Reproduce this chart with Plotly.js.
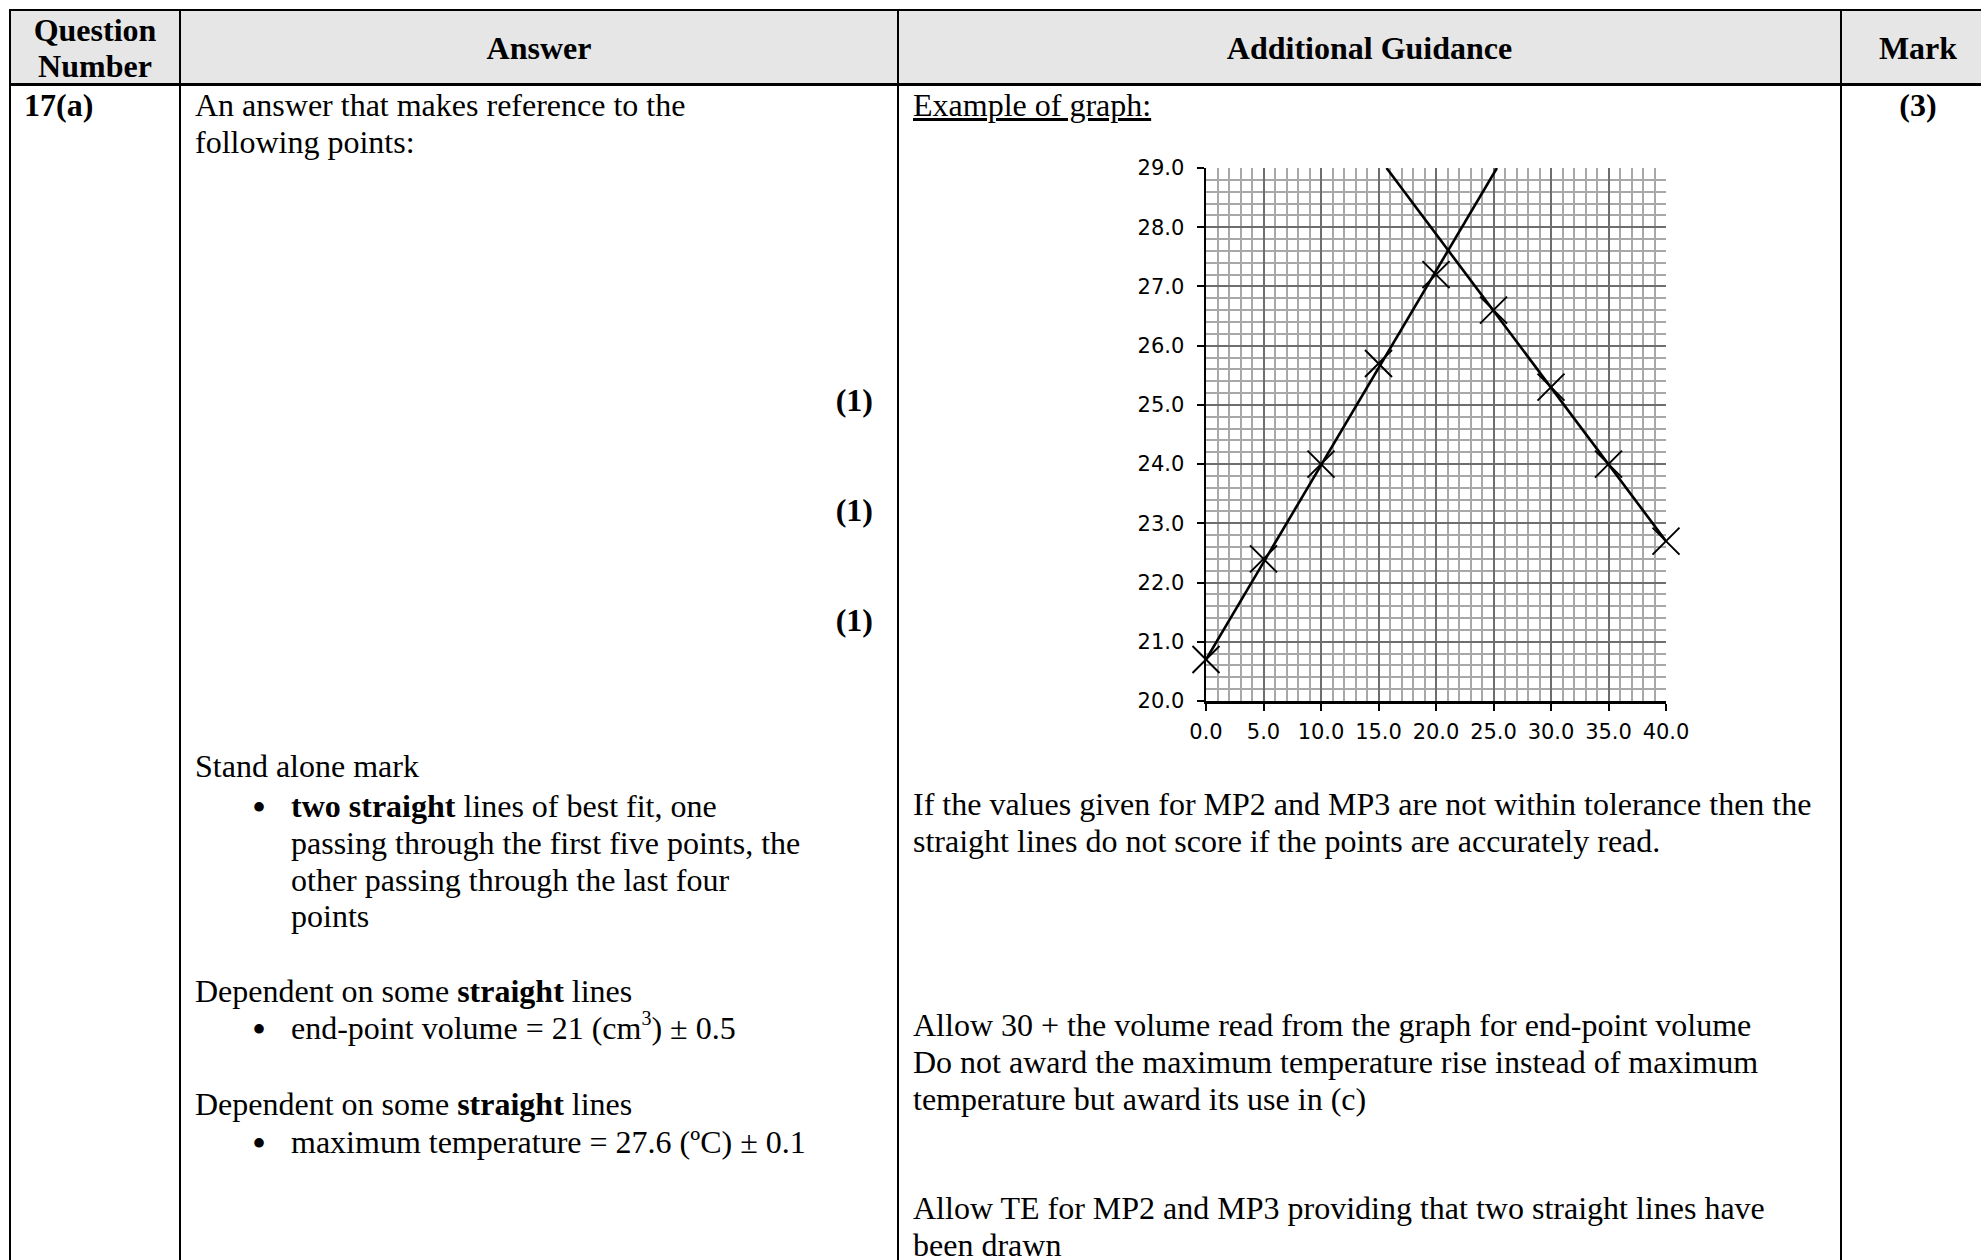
<!DOCTYPE html>
<html>
<head>
<meta charset="utf-8">
<script src="https://cdn.plot.ly/plotly-3.0.1.min.js"></script>
<style>
  html, body { margin:0; padding:0; background:#ffffff; }
  body { width:1981px; height:1260px; overflow:hidden; position:relative;
         font-family:"Liberation Serif","Times New Roman",serif; color:#000; }
  .ln { position:absolute; background:#000; }
  .t { position:absolute; font-size:32px; line-height:37px; white-space:nowrap; }
  .b { font-weight:bold; }
  .ctr { text-align:center; }
  .bul { position:absolute; font-size:40px; line-height:37px; }
  sup { font-size:20px; line-height:0; vertical-align:14px; }
</style>
</head>
<body>
<!-- header background -->
<div style="position:absolute;left:10px;top:10px;width:1990px;height:74px;background:#e6e6e6;"></div>

<!-- table lines -->
<div class="ln" style="left:9px;top:9px;width:2000px;height:2px;"></div>
<div class="ln" style="left:9px;top:83px;width:2000px;height:3px;"></div>
<div class="ln" style="left:9px;top:9px;width:2px;height:1260px;"></div>
<div class="ln" style="left:179px;top:9px;width:2px;height:1260px;"></div>
<div class="ln" style="left:897px;top:9px;width:2px;height:1260px;"></div>
<div class="ln" style="left:1840px;top:9px;width:2px;height:1260px;"></div>

<!-- header text -->
<div class="t b ctr" style="left:11px;width:168px;top:12px;">Question</div>
<div class="t b ctr" style="left:11px;width:168px;top:48px;">Number</div>
<div class="t b ctr" style="left:181px;width:716px;top:30px;">Answer</div>
<div class="t b ctr" style="left:899px;width:941px;top:30px;">Additional Guidance</div>
<div class="t b ctr" style="left:1842px;width:152px;top:30px;">Mark</div>

<!-- row content -->
<div class="t b" style="left:24px;top:87px;">17(a)</div>
<div class="t b ctr" style="left:1842px;width:152px;top:87px;">(3)</div>

<div class="t" style="left:195px;top:87px;">An answer that makes reference to the</div>
<div class="t" style="left:195px;top:124px;">following points:</div>

<div class="t b" style="left:780px;width:93px;text-align:right;top:382px;">(1)</div>
<div class="t b" style="left:780px;width:93px;text-align:right;top:492px;">(1)</div>
<div class="t b" style="left:780px;width:93px;text-align:right;top:602px;">(1)</div>

<div class="t" style="left:195px;top:748px;">Stand alone mark</div>
<div class="bul" style="left:252px;top:789px;">•</div>
<div class="t" style="left:291px;top:788px;"><b>two straight</b> lines of best fit, one</div>
<div class="t" style="left:291px;top:825px;">passing through the first five points, the</div>
<div class="t" style="left:291px;top:862px;">other passing through the last four</div>
<div class="t" style="left:291px;top:898px;">points</div>

<div class="t" style="left:195px;top:973px;">Dependent on some <b>straight</b> lines</div>
<div class="bul" style="left:252px;top:1011px;">•</div>
<div class="t" style="left:291px;top:1010px;">end-point volume = 21 (cm<sup>3</sup>) ± 0.5</div>

<div class="t" style="left:195px;top:1086px;">Dependent on some <b>straight</b> lines</div>
<div class="bul" style="left:252px;top:1125px;">•</div>
<div class="t" style="left:291px;top:1124px;">maximum temperature = 27.6 (ºC) ± 0.1</div>

<div class="t" style="left:913px;top:87px;text-decoration:underline;">Example of graph:</div>

<div class="t" style="left:913px;top:786px;">If the values given for MP2 and MP3 are not within tolerance then the</div>
<div class="t" style="left:913px;top:823px;">straight lines do not score if the points are accurately read.</div>

<div class="t" style="left:913px;top:1007px;">Allow 30 + the volume read from the graph for end-point volume</div>
<div class="t" style="left:913px;top:1044px;">Do not award the maximum temperature rise instead of maximum</div>
<div class="t" style="left:913px;top:1081px;">temperature but award its use in (c)</div>

<div class="t" style="left:913px;top:1190px;">Allow TE for MP2 and MP3 providing that two straight lines have</div>
<div class="t" style="left:913px;top:1227px;">been drawn</div>

<div id="chart" style="position:absolute;left:1106px;top:148px;width:600px;height:600px;"></div>

<script>
// ---- data ----
const volumeAdded   = [0, 5, 10, 15, 20, 25, 30, 35, 40];
const temperature   = [20.7, 22.4, 24.0, 25.7, 27.2, 26.6, 25.3, 24.0, 22.7];
// best-fit lines (end points as drawn)
const riseLineX = [0, 25.3];
const riseLineY = [20.7, 29.0];
const fallLineX = [15.7, 40];
const fallLineY = [29.0, 22.7];
// axis ticks
const xTicks = [0, 5, 10, 15, 20, 25, 30, 35, 40];
const yTicks = [20, 21, 22, 23, 24, 25, 26, 27, 28, 29];

const traces = [
  { x: riseLineX, y: riseLineY, type: 'scatter', mode: 'lines',
    line: { color: '#000', width: 2.6 }, hoverinfo: 'skip' },
  { x: fallLineX, y: fallLineY, type: 'scatter', mode: 'lines',
    line: { color: '#000', width: 2.6 }, hoverinfo: 'skip' },
  { x: volumeAdded, y: temperature, type: 'scatter', mode: 'markers',
    cliponaxis: false,
    marker: { symbol: 'x-thin', size: 27, color: '#000',
              line: { color: '#000', width: 2 } } }
];

const tickFont = { family: '"DejaVu Sans", Verdana, sans-serif', size: 21, color: '#000' };

const layout = {
  width: 600, height: 600,
  margin: { l: 100, r: 40, t: 20, b: 47, pad: 0 },
  paper_bgcolor: 'rgba(0,0,0,0)',
  plot_bgcolor: '#ffffff',
  showlegend: false,
  xaxis: {
    range: [0, 40], tickvals: xTicks, tickformat: '.1f',
    showline: true, linecolor: '#000', linewidth: 2.5,
    ticks: 'outside', ticklen: 7, tickwidth: 2, tickcolor: '#000',
    ticklabelstandoff: 3,
    showgrid: true, gridcolor: '#6e6e6e', gridwidth: 2,
    minor: { dtick: 1, showgrid: true, gridcolor: '#a8a8a8', gridwidth: 2, ticks: '' },
    zeroline: false, tickfont: tickFont, fixedrange: true
  },
  yaxis: {
    range: [20, 29], tickvals: yTicks, tickformat: '.1f',
    showline: true, linecolor: '#000', linewidth: 2.5,
    ticks: 'outside', ticklen: 7, tickwidth: 2, tickcolor: '#000',
    ticklabelstandoff: 8,
    showgrid: true, gridcolor: '#6e6e6e', gridwidth: 2,
    minor: { dtick: 0.2, showgrid: true, gridcolor: '#a8a8a8', gridwidth: 2, ticks: '' },
    zeroline: false, tickfont: tickFont, fixedrange: true
  }
};

Plotly.newPlot('chart', traces, layout, { staticPlot: true, displayModeBar: false });
</script>
</body>
</html>
